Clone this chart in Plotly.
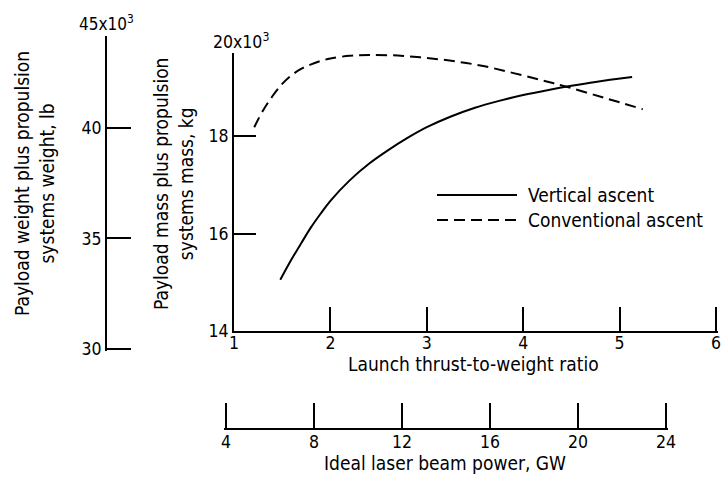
import plotly.graph_objects as go

# Launch thrust-to-weight ratio vs. payload + propulsion systems mass (thousands of kg)
tw_vertical = [1.48, 1.6, 1.7, 1.8, 1.9, 2.0, 2.2, 2.4, 2.6, 2.8, 3.0, 3.25, 3.5, 3.75, 4.0, 4.25, 4.5, 4.75, 5.13]
mass_vertical = [15.05, 15.48, 15.81, 16.13, 16.41, 16.67, 17.09, 17.43, 17.71, 17.96, 18.18, 18.4, 18.58, 18.72, 18.84, 18.94, 19.03, 19.11, 19.21]

tw_conventional = [1.21, 1.3, 1.4, 1.5, 1.6, 1.7, 1.8, 1.9, 2.0, 2.2, 2.4, 2.7, 3.0, 3.3, 3.6, 3.9, 4.2, 4.45, 4.83, 5.24]
mass_conventional = [18.18, 18.52, 18.82, 19.07, 19.25, 19.38, 19.47, 19.54, 19.59, 19.645, 19.66, 19.65, 19.6, 19.53, 19.43, 19.29, 19.14, 19.01, 18.79, 18.55]

series_names = ["Vertical ascent", "Conventional ascent"]

tw_ticks = [1, 2, 3, 4, 5, 6]
kg_ticks = [14, 16, 18]
lb_ticks = [30, 35, 40]
power_ticks = [4, 8, 12, 16, 20, 24]

W, H = 722, 485
FONT = "DejaVu Sans Condensed, Liberation Sans Narrow, sans-serif"
FS = 19
TICK_FS = 17.5
INK = "black"


def fx(p):
    return p / W


def fy(p):
    return 1 - p / H


fig = go.Figure()

fig.add_trace(go.Scatter(x=tw_vertical, y=mass_vertical, mode="lines",
                         line=dict(color=INK, width=2, shape="spline"),
                         name=series_names[0], showlegend=False))
fig.add_trace(go.Scatter(x=tw_conventional, y=mass_conventional, mode="lines",
                         line=dict(color=INK, width=2, shape="spline", dash="11px,6px"),
                         name=series_names[1], showlegend=False))
# empty traces that bring the pound scale and the beam-power scale into being
fig.add_trace(go.Scatter(x=[], y=[], xaxis="x", yaxis="y2", showlegend=False, hoverinfo="skip"))
fig.add_trace(go.Scatter(x=[], y=[], xaxis="x3", yaxis="y3", showlegend=False, hoverinfo="skip"))

axis_common = dict(showgrid=False, zeroline=False, showline=True, linecolor=INK, linewidth=2,
                   ticks="inside", tickcolor=INK, tickwidth=2, automargin=False,
                   tickfont=dict(family=FONT, size=TICK_FS, color=INK))

kg_px = 48.75                 # pixels per 1000 kg
lb_per_kg = 2.20462
lb_px = kg_px / lb_per_kg     # pixels per 1000 lb
tw_px = 96.4                  # pixels per unit thrust-to-weight
gw_px = 22.0                  # pixels per GW
pad = 2                       # keeps the end ticks inside the axis range

fig.update_layout(
    width=W, height=H, margin=dict(l=0, r=0, t=0, b=0),
    paper_bgcolor="white", plot_bgcolor="rgba(0,0,0,0)",
    font=dict(family=FONT, size=FS, color=INK),
    xaxis=dict(axis_common, domain=[fx(234), fx(716 + pad)], range=[1, 6 + pad / tw_px], anchor="y",
               tickvals=tw_ticks, ticklen=24, ticklabelstandoff=-5),
    yaxis=dict(axis_common, domain=[fy(331), fy(53)], range=[14, 14 + (331 - 53) / kg_px],
               anchor="x", tickvals=kg_ticks, ticklen=22),
    yaxis2=dict(axis_common, domain=[fy(349 + pad), fy(36)],
                range=[30 - pad / lb_px, 30 + (349 - 36) / lb_px],
                anchor="free", position=fx(106), tickvals=lb_ticks, ticklen=24),
    xaxis3=dict(axis_common, domain=[fx(226 - pad), fx(666 + pad)],
                range=[4 - pad / gw_px, 24 + pad / gw_px], anchor="y3",
                tickvals=power_ticks, ticklen=25, ticklabelstandoff=-3),
    yaxis3=dict(domain=[fy(428), fy(400)], range=[0, 1], visible=False, anchor="x3"),
)

annotations = [
    dict(text="20x10<sup>3</sup>", x=fx(241), y=fy(41), size=TICK_FS),
    dict(text="45x10<sup>3</sup>", x=fx(106), y=fy(23), size=17),
    dict(text="Launch thrust-to-weight ratio", x=fx(473), y=fy(364)),
    dict(text="Ideal laser beam power, GW", x=fx(445), y=fy(463)),
    dict(text="Payload mass plus propulsion<br>systems mass, kg", x=fx(173), y=fy(184), textangle=-90),
    dict(text="Payload weight plus propulsion<br>systems weight, lb", x=fx(34), y=fy(184), textangle=-90),
    dict(text=series_names[0], x=fx(526), y=fy(195), xanchor="left"),
    dict(text=series_names[1], x=fx(526), y=fy(220), xanchor="left"),
]
for a in annotations:
    a.setdefault("xanchor", "center")
    size = a.pop("size", FS)
    fig.add_annotation(xref="paper", yref="paper", yanchor="middle", showarrow=False,
                       font=dict(family=FONT, size=size, color=INK), **a)

# legend key lines
fig.add_shape(type="line", xref="paper", yref="paper", x0=fx(437), x1=fx(517), y0=fy(195), y1=fy(195),
              line=dict(color=INK, width=2))
fig.add_shape(type="line", xref="paper", yref="paper", x0=fx(437), x1=fx(517), y0=fy(220), y1=fy(220),
              line=dict(color=INK, width=2, dash="11px,6px"))

fig.write_html("out.html")
